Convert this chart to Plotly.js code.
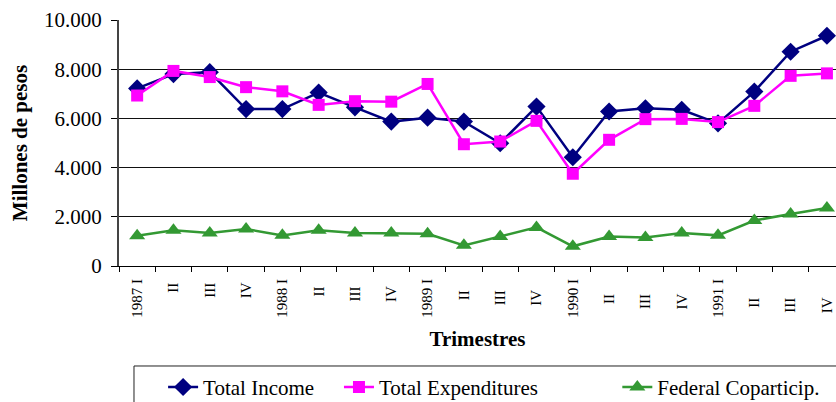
<!DOCTYPE html>
<html><head><meta charset="utf-8">
<script src="https://cdn.plot.ly/plotly-3.0.1.min.js"></script>
<style>html,body{margin:0;padding:0;background:#fff;}#chart{width:836px;height:402px;}</style>
</head><body><div id="chart"></div>
<script>
const quarters = ["1987 I","II ","III ","IV ","1988 I","II  ","III  ","IV  ","1989 I","II   ","III   ","IV   ","1990 I","II    ","III    ","IV    ","1991 I","II     ","III     ","IV     "];
const totalIncome = [7220,7800,7880,6380,6380,7050,6450,5870,6030,5870,4990,6480,4420,6280,6410,6350,5800,7090,8710,9360];
const totalExpenditures = [6930,7930,7680,7270,7100,6550,6700,6680,7400,4950,5060,5900,3750,5130,5970,5980,5850,6510,7730,7830];
const federalCoparticip = [1230,1450,1340,1500,1245,1450,1340,1340,1310,840,1200,1570,800,1200,1160,1340,1245,1850,2110,2360];

const font = "Liberation Serif";
const traces = [
  {x: quarters, y: totalIncome, name: "Total Income", mode: "lines+markers", legend: "legend",
   line: {color: "#000080", width: 2.5}, marker: {symbol: "diamond", size: 14, color: "#000080"}},
  {x: quarters, y: totalExpenditures, name: "Total Expenditures", mode: "lines+markers", legend: "legend2",
   line: {color: "#FF00FF", width: 2.5}, marker: {symbol: "square", size: 12, color: "#FF00FF"}},
  {x: quarters, y: federalCoparticip, name: "Federal Coparticip.", mode: "lines+markers", legend: "legend3",
   line: {color: "#339933", width: 2.5}, marker: {symbol: "triangle-up", size: 14, color: "#339933"}}
];
function leg(x) {
  return {orientation: "h", x: x, xanchor: "left", y: -0.41, yanchor: "top",
    borderwidth: 0, bgcolor: "rgba(0,0,0,0)", font: {family: font, size: 21, color: "#000"}};
}
const layout = {
  width: 836, height: 402,
  margin: {l: 119, r: 0, t: 20, b: 136, autoexpand: false},
  paper_bgcolor: "#fff", plot_bgcolor: "#fff",
  separators: ",.",
  font: {family: font, color: "#000"},
  showlegend: true,
  legend: leg(0.0615),
  legend2: leg(0.3068),
  legend3: leg(0.695),
  shapes: [{type: "rect", xref: "paper", yref: "paper", x0: 0.0209, x1: 1.05, y0: -0.4065, y1: -0.7,
    line: {color: "#222", width: 1}, fillcolor: "rgba(0,0,0,0)"}],
  xaxis: {type: "category", range: [-0.5, 19.25], tickson: "boundaries",
    ticks: "outside", ticklen: 5, tickcolor: "#000", showgrid: false,
    showline: true, linecolor: "#000", linewidth: 1, tickangle: -90, ticklabelstandoff: 6,
    tickfont: {family: font, size: 15, color: "#000"},
    title: {text: "<b>Trimestres</b>", font: {family: font, size: 21, color: "#000"}, standoff: 14}},
  yaxis: {range: [0, 10000], dtick: 2000, tickformat: ",d", ticks: "outside", ticklen: 6,
    tickcolor: "#000", showline: true, linecolor: "#444", linewidth: 2, ticklabelstandoff: 5,
    gridcolor: "#111", gridwidth: 1, zeroline: false,
    tickfont: {family: font, size: 21, color: "#000"},
    title: {text: "<b>Millones de pesos</b>", font: {family: font, size: 21, color: "#000"}, standoff: 11}}
};
Plotly.newPlot("chart", traces, layout, {displayModeBar: false, staticPlot: true});
</script></body></html>
